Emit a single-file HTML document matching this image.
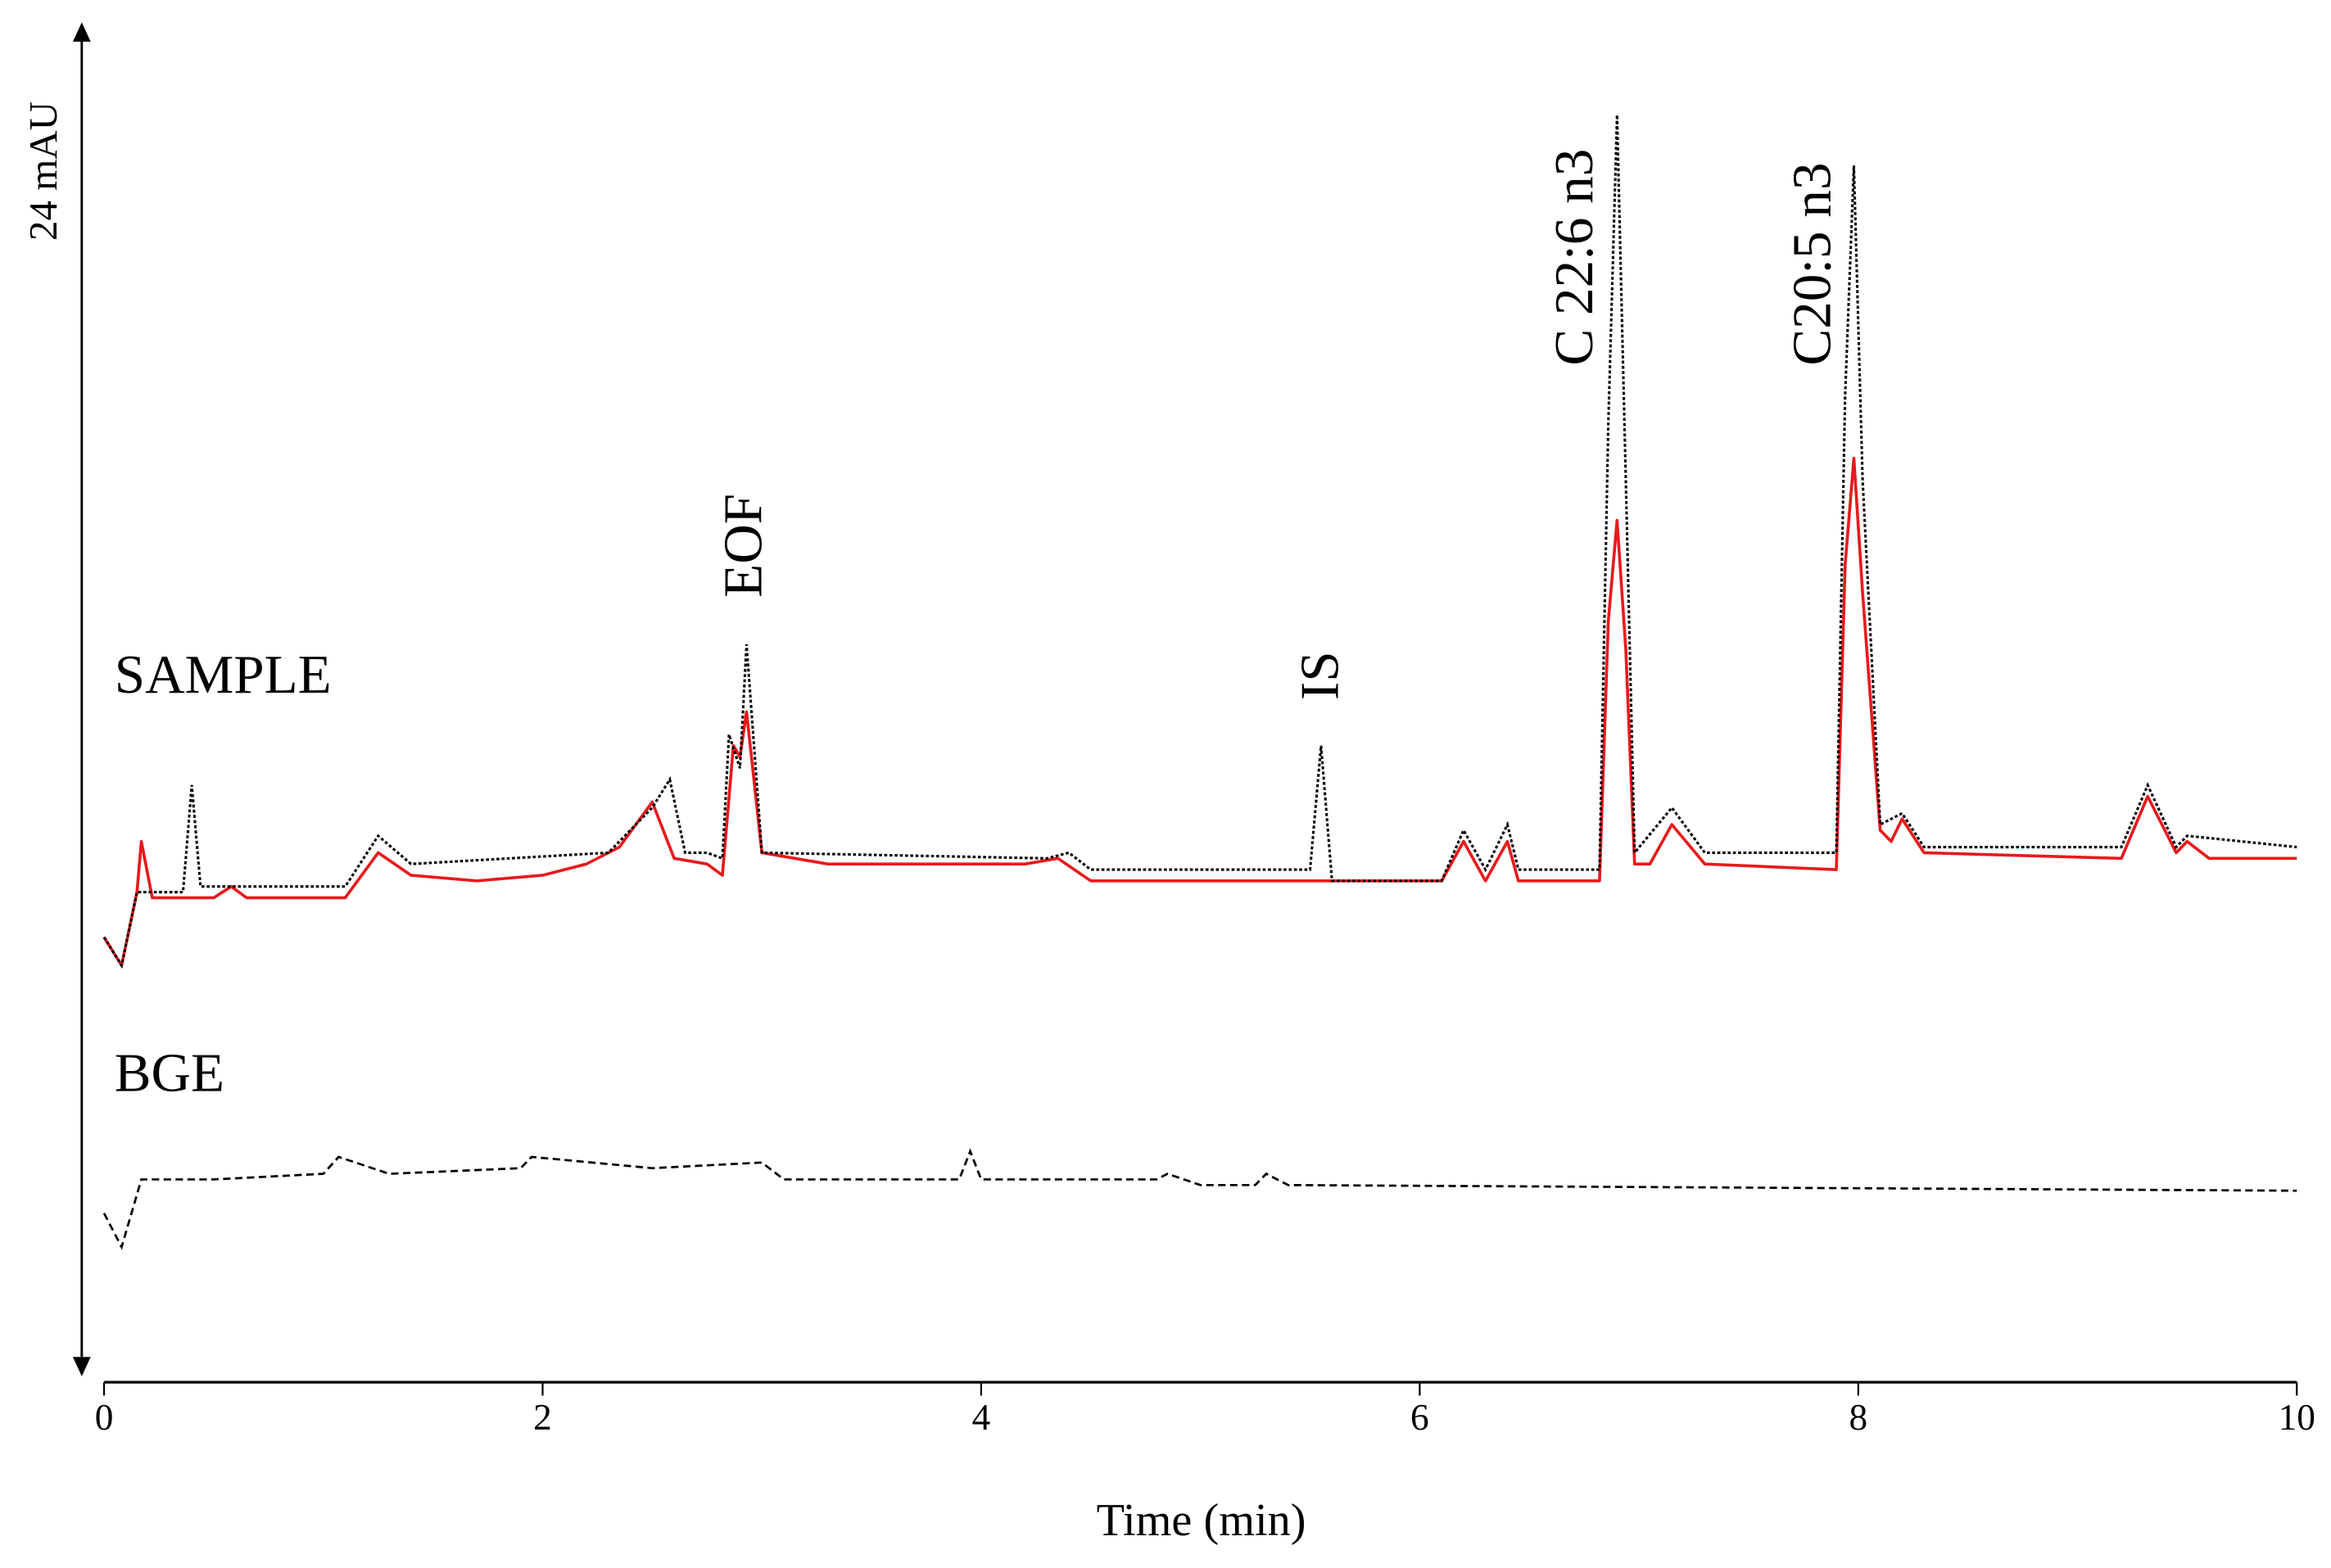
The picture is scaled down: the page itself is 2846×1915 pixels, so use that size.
<!DOCTYPE html>
<html><head><meta charset="utf-8"><style>
html,body{margin:0;padding:0;background:#fff;}
svg{display:block;}
text{font-family:"Liberation Serif",serif;fill:#000;}
</style></head><body>
<svg id="chart" width="2846" height="1915" viewBox="0 0 1568 1055" preserveAspectRatio="none" xmlns="http://www.w3.org/2000/svg">
<g id="axes"></g>
<g id="series"></g>
<g id="labels">
<text transform="translate(38,162) rotate(-90)" font-size="27">24 mAU</text>
<text x="808" y="1033" font-size="31" text-anchor="middle">Time (min)</text>
<text x="77" y="466" font-size="37">SAMPLE</text>
<text x="77" y="734" font-size="37">BGE</text>
<text transform="translate(512,402) rotate(-90)" font-size="37">EOF</text>
<text transform="translate(900,471) rotate(-90)" font-size="37">IS</text>
<text transform="translate(1071,246) rotate(-90)" font-size="37">C 22:6 n3</text>
<text transform="translate(1231,246) rotate(-90)" font-size="37">C20:5 n3</text>
</g>
</svg>
<script>
const xTicks = [0, 2, 4, 6, 8, 10];
const redTimes = [0,0.08,0.15,0.17,0.22,0.5,0.58,0.65,1.1,1.25,1.4,1.7,2.0,2.2,2.35,2.5,2.6,2.75,2.82,2.87,2.9,2.93,3.0,3.3,4.2,4.35,4.5,6.1,6.2,6.3,6.4,6.45,6.82,6.86,6.9,6.94,6.98,7.05,7.15,7.3,7.9,7.94,7.98,8.02,8.1,8.15,8.2,8.3,9.2,9.32,9.45,9.5,9.6,10];
const redValues = [7.9,7.4,8.7,9.6,8.6,8.6,8.8,8.6,8.6,9.4,9.0,8.9,9.0,9.2,9.5,10.3,9.3,9.2,9.0,11.3,11.1,11.9,9.4,9.2,9.2,9.3,8.9,8.9,9.6,8.9,9.6,8.9,8.9,13.5,15.3,13.0,9.2,9.2,9.9,9.2,9.1,14.5,16.4,14.0,9.8,9.6,10.0,9.4,9.3,10.4,9.4,9.6,9.3,9.3];
const blackTimes = [0,0.08,0.15,0.22,0.36,0.4,0.44,1.1,1.25,1.4,2.3,2.5,2.58,2.65,2.75,2.82,2.85,2.9,2.93,3.0,4.3,4.4,4.5,5.5,5.55,5.6,6.1,6.2,6.3,6.4,6.45,6.82,6.86,6.9,6.94,6.98,7.15,7.3,7.9,7.94,7.98,8.02,8.1,8.2,8.3,9.2,9.32,9.45,9.5,10];
const blackValues = [7.9,7.4,8.7,8.7,8.7,10.6,8.8,8.8,9.7,9.2,9.4,10.2,10.7,9.4,9.4,9.3,11.5,10.9,13.1,9.4,9.3,9.4,9.1,9.1,11.3,8.9,8.9,9.8,9.1,9.9,9.1,9.1,17.0,22.5,16.0,9.4,10.2,9.4,9.4,17.5,21.6,16.0,9.9,10.1,9.5,9.5,10.6,9.5,9.7,9.5];
const bgeTimes = [0,0.08,0.17,0.5,1.0,1.07,1.3,1.9,1.95,2.5,3.0,3.1,3.9,3.95,4.0,4.8,4.85,5.0,5.25,5.3,5.4,10];
const bgeValues = [3.0,2.4,3.6,3.6,3.7,4.0,3.7,3.8,4.0,3.8,3.9,3.6,3.6,4.1,3.6,3.6,3.7,3.5,3.5,3.7,3.5,3.4];

const NS = "http://www.w3.org/2000/svg";
function xScale(t){ return 70 + t * 147.5; }
function yScale(v){ return 930 - v * 37.9; }
function mk(tag, attrs){ const e = document.createElementNS(NS, tag); for (const k in attrs) e.setAttribute(k, attrs[k]); return e; }

const axes = document.getElementById('axes');
const xAxis = mk('line', {x1: xScale(0), x2: xScale(10), y1: 930, y2: 930, stroke: '#000', 'stroke-width': 1.8});


axes.appendChild(xAxis);
xTicks.forEach(t => {
  const tk = mk('line', {x1: xScale(t), x2: xScale(t), y1: 930, y2: 939, stroke: '#000', 'stroke-width': 1.2});
  
  
  axes.appendChild(tk);
  const lb = mk('text', {x: xScale(t), y: 962, 'font-size': 25, 'text-anchor': 'middle'});
  lb.textContent = t;
  
  
  axes.appendChild(lb);
});
const yAxis = mk('line', {x1: 55, x2: 55, y1: 26, y2: 914, stroke: '#000', 'stroke-width': 1.6});


axes.appendChild(yAxis);
const ah1 = mk('polygon', {points: '55,15 49,28 61,28', fill: '#000'});


axes.appendChild(ah1);
const ah2 = mk('polygon', {points: '55,926 49,913 61,913', fill: '#000'});


axes.appendChild(ah2);

function pathD(ts, vs){ return ts.map((t,i)=>(i?'L':'M')+xScale(t).toFixed(2)+','+yScale(vs[i]).toFixed(2)).join(''); }
const series = document.getElementById('series');
const bge = mk('path', {d: pathD(bgeTimes, bgeValues), fill: 'none', stroke: '#000', 'stroke-width': 1.5, 'stroke-dasharray': '5 3'});


series.appendChild(bge);
const red = mk('path', {d: pathD(redTimes, redValues), fill: 'none', stroke: '#e8191c', 'stroke-width': 2, 'stroke-linejoin': 'round'});


series.appendChild(red);
const blk = mk('path', {d: pathD(blackTimes, blackValues), fill: 'none', stroke: '#000', 'stroke-width': 1.7, 'stroke-dasharray': '2 1.5'});


series.appendChild(blk);
</script>
</body></html>
